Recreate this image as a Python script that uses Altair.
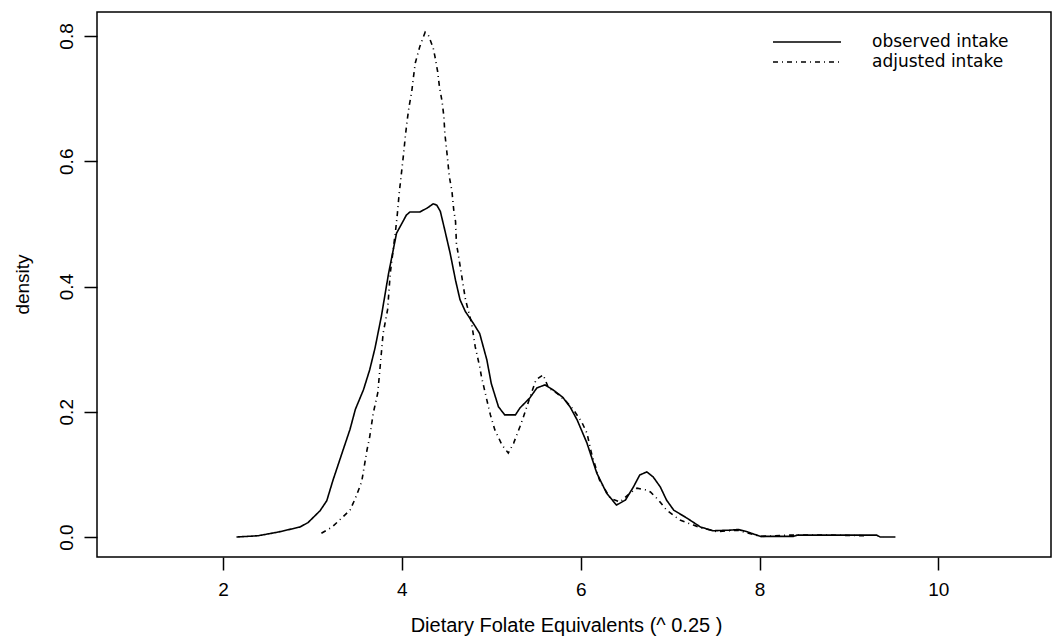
import altair as alt
import pandas as pd

# observed intake density curve
obs_x = [2.15, 2.39, 2.62, 2.86, 2.95, 3.085, 3.16, 3.23, 3.34, 3.42, 3.48, 3.57, 3.64, 3.70,
         3.77, 3.85, 3.94, 4.05, 4.09, 4.20, 4.28, 4.35, 4.39, 4.43, 4.48, 4.54, 4.60, 4.65,
         4.71, 4.80, 4.87, 4.95, 5.00, 5.08, 5.15, 5.27, 5.32, 5.43, 5.51, 5.60, 5.69, 5.80,
         5.88, 5.96, 6.07, 6.18, 6.29, 6.40, 6.50, 6.59, 6.66, 6.74, 6.81, 6.89, 6.96, 7.04,
         7.19, 7.34, 7.48, 7.67, 7.76, 7.86, 8.01, 8.38, 8.42, 9.31, 9.35, 9.52]
obs_y = [0.000, 0.002, 0.008, 0.016, 0.023, 0.042, 0.058, 0.091, 0.138, 0.172, 0.204, 0.235,
         0.267, 0.302, 0.352, 0.420, 0.485, 0.514, 0.519, 0.519, 0.525, 0.532, 0.530, 0.520,
         0.490, 0.453, 0.410, 0.379, 0.360, 0.341, 0.325, 0.283, 0.245, 0.208, 0.195, 0.195,
         0.206, 0.222, 0.238, 0.243, 0.235, 0.223, 0.208, 0.187, 0.150, 0.102, 0.070, 0.051,
         0.059, 0.080, 0.099, 0.104, 0.096, 0.080, 0.059, 0.043, 0.030, 0.016, 0.010, 0.011,
         0.012, 0.0085, 0.001, 0.001, 0.003, 0.003, 0.000, 0.000]

# adjusted intake density curve
adj_x = [3.10, 3.22, 3.42, 3.48, 3.55, 3.61, 3.64, 3.68, 3.73, 3.76, 3.79, 3.84, 3.87, 3.93,
         3.95, 3.97, 4.02, 4.04, 4.06, 4.08, 4.11, 4.13, 4.15, 4.20, 4.26, 4.30, 4.35, 4.37,
         4.40, 4.42, 4.45, 4.47, 4.48, 4.51, 4.53, 4.56, 4.58, 4.60, 4.61, 4.64, 4.67, 4.71,
         4.78, 4.82, 4.87, 4.89, 4.95, 4.99, 5.04, 5.12, 5.19, 5.25, 5.32, 5.36, 5.43, 5.50,
         5.58, 5.64, 5.73, 5.84, 5.92, 6.01, 6.07, 6.12, 6.21, 6.33, 6.44, 6.55, 6.63, 6.74,
         6.78, 6.87, 6.96, 7.11, 7.26, 7.34, 7.52, 7.75, 8.01, 8.33, 8.80, 9.20]
adj_y = [0.006, 0.016, 0.043, 0.062, 0.088, 0.139, 0.160, 0.198, 0.230, 0.277, 0.325, 0.363,
         0.421, 0.490, 0.517, 0.549, 0.613, 0.642, 0.666, 0.687, 0.711, 0.735, 0.757, 0.783,
         0.806, 0.800, 0.781, 0.767, 0.743, 0.719, 0.695, 0.671, 0.645, 0.605, 0.576, 0.552,
         0.522, 0.504, 0.469, 0.443, 0.416, 0.380, 0.341, 0.304, 0.272, 0.256, 0.219, 0.195,
         0.171, 0.147, 0.134, 0.150, 0.176, 0.192, 0.222, 0.251, 0.259, 0.238, 0.230, 0.216,
         0.203, 0.184, 0.166, 0.134, 0.091, 0.062, 0.056, 0.070, 0.078, 0.075, 0.072, 0.059,
         0.043, 0.027, 0.019, 0.015, 0.0085, 0.011, 0.001, 0.003, 0.003, 0.002]

series_names = ["observed intake", "adjusted intake"]
x_ticks = [2, 4, 6, 8, 10]
y_ticks = [0.0, 0.2, 0.4, 0.6, 0.8]

df = pd.concat([
    pd.DataFrame({"x": obs_x, "y": obs_y, "series": series_names[0]}),
    pd.DataFrame({"x": adj_x, "y": adj_y, "series": series_names[1]}),
])

FONT = "Liberation Sans"

chart = alt.Chart(df).mark_line(color="black", strokeWidth=1.6).encode(
    x=alt.X("x:Q", scale=alt.Scale(domain=[0.59, 11.26], nice=False, zero=False),
            axis=alt.Axis(values=x_ticks, title="Dietary Folate Equivalents (^ 0.25 )",
                          grid=False, domain=False, tickSize=13, tickWidth=1.5,
                          tickColor="black", labelPadding=10, labelFontSize=19,
                          labelFont=FONT, labelColor="black", titleFont=FONT,
                          titleFontSize=20, titleFontWeight="normal", titleColor="black",
                          titleX=469, titleY=68, titleBaseline="middle", titleAlign="center")),
    y=alt.Y("y:Q", scale=alt.Scale(domain=[-0.0319, 0.8383], nice=False, zero=False),
            axis=alt.Axis(values=y_ticks, format=".1f", title="density", grid=False,
                          domain=False, tickSize=13, tickWidth=1.5, tickColor="black",
                          labelAngle=-90, labelAlign="center", labelBaseline="bottom",
                          labelPadding=8, labelFontSize=19, labelFont=FONT,
                          labelColor="black", titleFont=FONT, titleFontSize=19,
                          titleFontWeight="normal", titleColor="black", titleAngle=-90,
                          titleX=-75, titleY=272, titleBaseline="middle", titleAlign="center")),
    strokeDash=alt.StrokeDash(
        "series:N",
        scale=alt.Scale(domain=series_names, range=[[1, 0], [5, 4, 1, 4]]),
        sort=series_names,
        legend=alt.Legend(title=None, orient="none", legendX=675, legendY=20,
                          symbolType="stroke", symbolSize=4624, symbolStrokeWidth=1.6,
                          symbolStrokeColor="black", clipHeight=20, labelOffset=30,
                          labelFont="DejaVu Sans", labelFontSize=17, labelColor="black",
                          rowPadding=0, padding=0)),
    order=alt.Order("x:Q"),
).properties(
    width=954, height=545,
    autosize=alt.AutoSizeParams(type="none"),
    padding={"left": 97, "top": 12, "right": 1, "bottom": 85},
    background="white",
).configure_view(stroke="black", strokeWidth=1.5)

chart.save("out.html", embed_options={"renderer": "svg", "actions": False})
